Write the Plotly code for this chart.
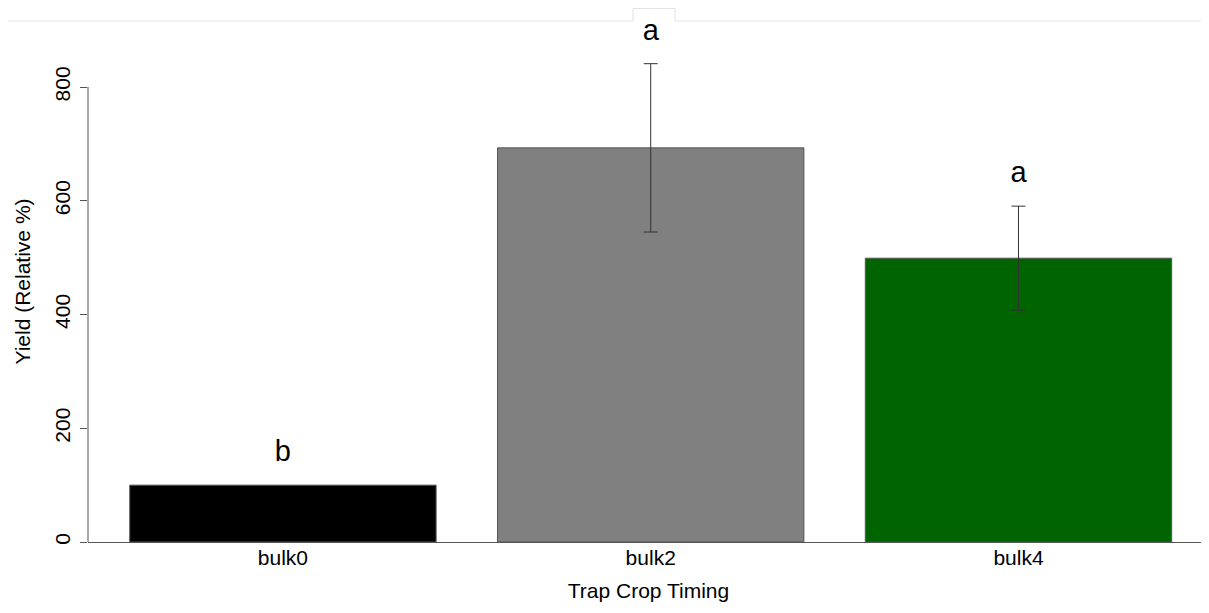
import plotly.graph_objects as go

categories = ["bulk0", "bulk2", "bulk4"]
means = [100, 693, 499]
se = [None, 148, 91.5]
letters = ["b", "a", "a"]
bar_colors = ["#000000", "#808080", "#006400"]
y_ticks = [0, 200, 400, 600, 800]

# the page body has an 8px margin; the figure starts at page (8, 8)
OFF = 8
W, H = 1209 - OFF, 613 - 2 * OFF
ML, MR, MT = 88 - OFF, 0, 21 - OFF
MB = H - (542 - OFF)
px_per_unit = 455 / 800.0
plot_h = H - MT - MB
ymax = plot_h / px_per_unit
FONT = "Liberation Sans, Arial, sans-serif"

xs = list(range(len(categories)))
label_y = [m + (s or 0) + 55 for m, s in zip(means, se)]
err_x = [x for x, s in zip(xs, se) if s is not None]
err_y = [m for m, s in zip(means, se) if s is not None]
err_v = [s for s in se if s is not None]

fig = go.Figure()
fig.add_trace(go.Bar(
    x=xs, y=means, width=0.833,
    marker=dict(color=bar_colors, line=dict(color="#555555", width=1)),
    showlegend=False, hoverinfo="skip",
))
fig.add_trace(go.Scatter(
    x=err_x, y=err_y, mode="markers", marker=dict(size=0.1, opacity=0),
    error_y=dict(type="data", array=err_v, visible=True, color="#333333", thickness=1, width=7),
    showlegend=False, hoverinfo="skip",
))
fig.add_trace(go.Scatter(
    x=xs, y=label_y, mode="text", text=letters,
    textfont=dict(family=FONT, size=29, color="#000000"),
    textposition="middle center", showlegend=False, hoverinfo="skip",
))

# R-style y axis line from 0 to 800
fig.add_shape(type="line", xref="paper", yref="y", x0=0, x1=0, y0=0, y1=800,
              line=dict(color="#555555", width=1))

# top frame line with notch (page pixel coordinates converted to paper)
def px2paper_x(p):
    return (p - OFF - ML) / (W - ML - MR)

def px2paper_y(p):
    return (H - MB - (p - OFF)) / plot_h

ty = px2paper_y(21)
ny = px2paper_y(8.5)
path = (f"M {px2paper_x(0)},{ty} L {px2paper_x(633)},{ty} L {px2paper_x(633)},{ny} "
        f"L {px2paper_x(675)},{ny} L {px2paper_x(675)},{ty} L {px2paper_x(1209)},{ty}")
fig.add_shape(type="path", xref="paper", yref="paper", path=path,
              line=dict(color="#e3e3e3", width=1))

fig.update_layout(
    width=W, height=H,
    margin=dict(l=ML, r=MR, t=MT, b=MB),
    paper_bgcolor="white", plot_bgcolor="white",
    font=dict(family=FONT, size=21, color="#000000"),
    xaxis=dict(
        range=[-0.530, 2.518], tickvals=xs, ticktext=categories,
        showgrid=False, zeroline=False, showline=True, linecolor="#555555", linewidth=1,
        ticks="", tickfont=dict(size=21), ticklabelstandoff=-3,
        title=dict(text="Trap Crop Timing", font=dict(size=21), standoff=15),
        fixedrange=True,
    ),
    yaxis=dict(
        range=[0, ymax], tickvals=y_ticks, showgrid=False, zeroline=False, showline=False,
        ticks="outside", ticklen=7, tickcolor="#555555", tickangle=-90,
        tickfont=dict(size=21), ticklabelstandoff=2,
        title=dict(text="Yield (Relative %)", font=dict(size=21), standoff=14),
        fixedrange=True,
    ),
)

fig.write_html("out.html")
